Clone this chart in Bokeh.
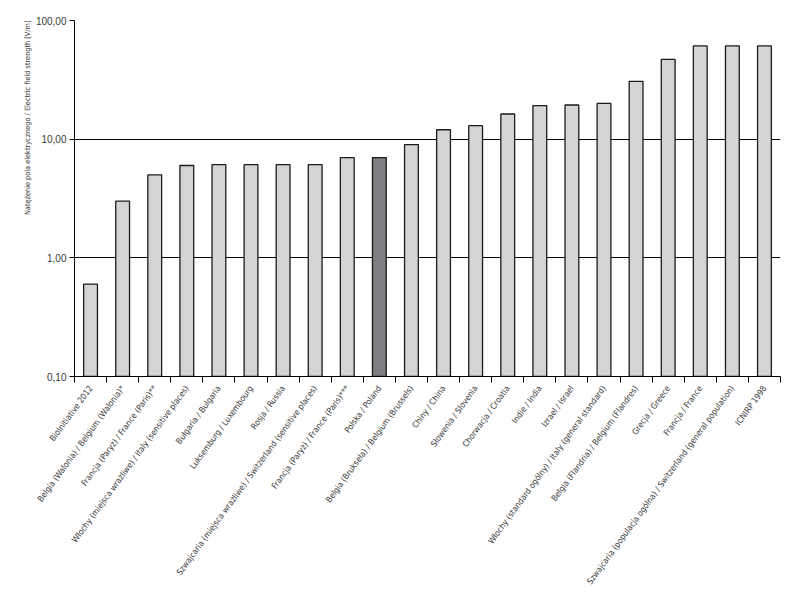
import numpy as np
from bokeh.plotting import figure
from bokeh.models import Range1d, FixedTicker, CustomJSTickFormatter, ColumnDataSource, Title
from bokeh.embed import file_html
from bokeh.resources import INLINE

labels = [
    "BioInitiative 2012",
    "Belgia (Walonia) / Belgium (Walonia)*",
    "Francja (Paryż) / France (Paris)**",
    "Włochy (miejsca wrażliwe) / Italy (sensitive places)",
    "Bułgaria / Bulgaria",
    "Luksemburg / Luxembourg",
    "Rosja / Russia",
    "Szwajcaria (miejsca wrażliwe) / Switzerland (sensitive places)",
    "Francja (Paryż) / France (Paris)***",
    "Polska / Poland",
    "Belgia (Bruksela) / Belgium (Brussels)",
    "Chiny / China",
    "Słowenia / Slovenia",
    "Chorwacja / Croatia",
    "Indie / India",
    "Izrael / Israel",
    "Włochy (standard ogólny) / Italy (general standard)",
    "Belgia (Flandria) / Belgium (Flandres)",
    "Grecja / Greece",
    "Francja / France",
    "Szwajcaria (populacja ogólna) / Switzerland (general population)",
    "ICNIRP 1998",
]
values = [0.6, 3.0, 5.0, 6.0, 6.1, 6.1, 6.1, 6.1, 7.0, 7.0, 9.0, 12.0, 13.0,
          16.3, 19.2, 19.4, 20.0, 30.7, 47.0, 61.0, 61.0, 61.0]
highlight = "Polska / Poland"
y_ticks = [0.1, 1, 10, 100]
y_title = "Natężenie pola elektrycznego / Electric field strength [V/m]"

n = len(labels)
xs = np.arange(n) + 0.5
colors = ["#7f7f83" if l == highlight else "#d4d4d4" for l in labels]
src = ColumnDataSource(dict(x=xs, top=values, color=colors))

p = figure(width=794, height=592, output_backend="svg", toolbar_location=None,
           y_axis_type="log", x_range=Range1d(0, n), y_range=Range1d(0.1, 100),
           min_border_left=74, min_border_right=14, min_border_top=20,
           min_border_bottom=216)
p.outline_line_color = None
p.background_fill_color = "white"

p.vbar(x="x", width=0.43, top="top", bottom=0.1, source=src,
       fill_color="color", line_color="#1a1a1a", line_width=1.3)

# y axis title, aligned to the top end of the axis
p.add_layout(Title(text=y_title, align="right", text_font="DejaVu Sans Condensed",
                   text_font_size="7.3px", text_font_style="normal",
                   text_color="#383838", standoff=2), "left")

# y axis
p.yaxis.ticker = FixedTicker(ticks=y_ticks, minor_ticks=[])
p.yaxis.formatter = CustomJSTickFormatter(code="return tick.toFixed(2).replace('.', ',');")
p.yaxis.major_label_text_font = "Liberation Sans"
p.yaxis.major_label_text_font_size = "10px"
p.yaxis.major_label_text_color = "#383838"
p.yaxis.major_tick_in = 0
p.yaxis.major_tick_out = 5
p.yaxis.major_label_standoff = 3
p.yaxis.axis_line_color = "black"
p.yaxis.major_tick_line_color = "black"

p.ygrid.ticker = FixedTicker(ticks=y_ticks, minor_ticks=[])
p.ygrid.grid_line_color = "black"
p.ygrid.grid_line_width = 1
p.xgrid.grid_line_color = None

# x axis: labels at centers, ticks at boundaries (minor ticks)
p.xaxis.ticker = FixedTicker(ticks=list(xs), minor_ticks=list(range(n + 1)))
p.xaxis.formatter = CustomJSTickFormatter(args=dict(labels=labels),
                                          code="return labels[Math.floor(tick)];")
p.xaxis.major_tick_line_color = None
p.xaxis.major_tick_in = 0
p.xaxis.major_tick_out = 6
p.xaxis.minor_tick_in = 0
p.xaxis.minor_tick_out = 6
p.xaxis.minor_tick_line_color = "black"
p.xaxis.axis_line_color = "black"
p.xaxis.major_label_orientation = 0.94
p.xaxis.major_label_text_font = "DejaVu Sans Condensed"
p.xaxis.major_label_text_font_size = "8.4px"
p.xaxis.major_label_text_color = "#383838"
p.xaxis.major_label_standoff = 4

open("out.html", "w").write(file_html(p, INLINE))
